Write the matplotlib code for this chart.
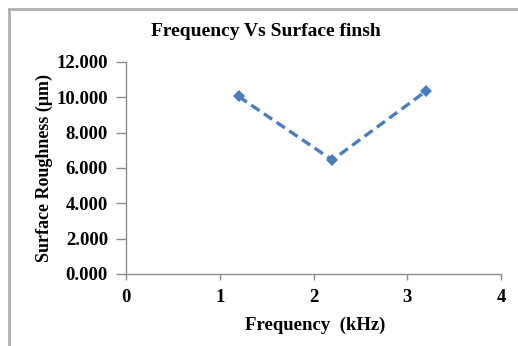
import matplotlib
matplotlib.use("Agg")
import matplotlib.pyplot as plt
from matplotlib.lines import Line2D

frequency_khz = [1.2, 2.2, 3.2]
roughness_um = [10.05, 6.45, 10.35]
x_ticks = [0, 1, 2, 3, 4]
y_ticks = [0, 2, 4, 6, 8, 10, 12]

plt.rcParams['font.family'] = ['Liberation Serif', 'DejaVu Serif']
plt.rcParams['font.weight'] = 'bold'

W, H = 518, 346
fig = plt.figure(figsize=(W / 100, H / 100), dpi=100)
ax = fig.add_axes([126 / W, 1 - 274 / H, (501 - 126) / W, (274 - 62) / H])

ax.plot(frequency_khz, roughness_um, linestyle=(0, (3, 1.6)), color='#4a7ebb',
        linewidth=2.4, marker='D', markersize=6, markeredgewidth=0)

ax.set_xlim(0, 4)
ax.set_ylim(0, 12)
ax.set_xticks(x_ticks)
ax.set_yticks(y_ticks)
ax.set_yticklabels([f"{v:.3f}" for v in y_ticks])

for side in ('top', 'right'):
    ax.spines[side].set_visible(False)
for side in ('left', 'bottom'):
    ax.spines[side].set_color('#8c8c8c')
    ax.spines[side].set_linewidth(1.0)
ax.tick_params(axis='both', colors='#8c8c8c', labelcolor='black', labelsize=13.5,
               width=1.0, direction='out')
ax.tick_params(axis='x', length=4, pad=7)
ax.tick_params(axis='y', length=7, pad=6)
for lbl in ax.get_xticklabels() + ax.get_yticklabels():
    lbl.set_fontweight('bold')

fig.text(266 / W, 1 - 32 / H, 'Frequency Vs Surface finsh', ha='center', va='center',
         fontsize=14, fontweight='bold')
fig.text(315 / W, 1 - 325 / H, 'Frequency  (kHz)', ha='center', va='center',
         fontsize=13.5, fontweight='bold')
fig.text(44 / W, 1 - 168 / H, 'Surface Roughness (\u03bcm)', ha='center', va='center',
         rotation=90, fontsize=13, fontweight='bold')

# chart area border
fig.add_artist(Line2D([9 / W, 9 / W], [0, 1 - 9 / H], transform=fig.transFigure,
                      color='#b0b0b0', linewidth=2))
fig.add_artist(Line2D([9 / W, 1], [1 - 9 / H, 1 - 9 / H], transform=fig.transFigure,
                      color='#b0b0b0', linewidth=2))

fig.savefig('out.png', dpi=100)
